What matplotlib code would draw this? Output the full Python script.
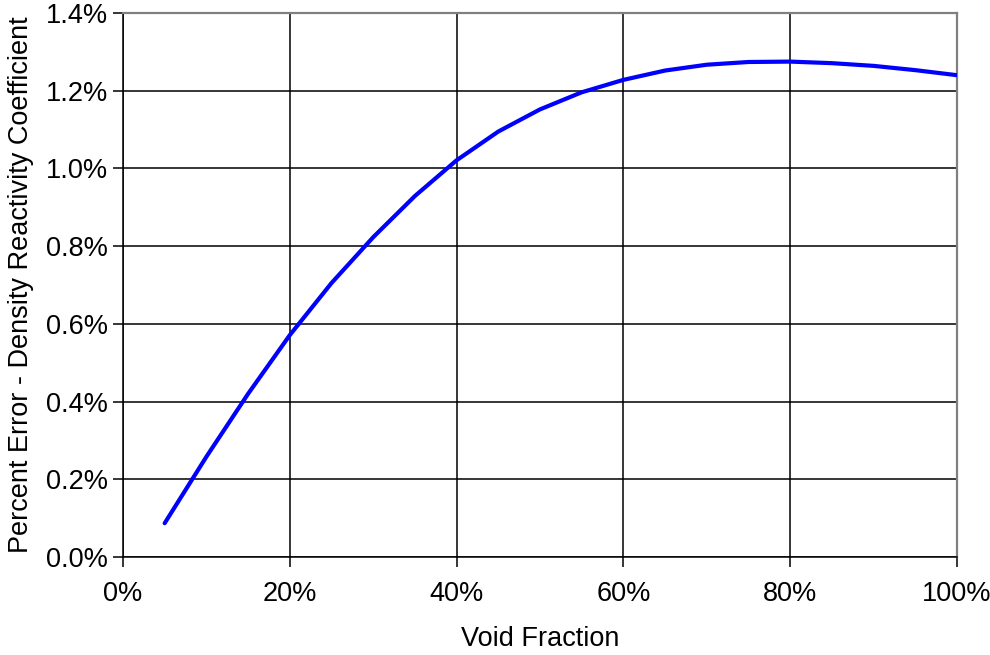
import matplotlib.pyplot as plt
from matplotlib.ticker import FuncFormatter

plt.rcParams['font.family'] = ['Liberation Sans', 'DejaVu Sans']

# void fraction (%) and percent error in density reactivity coefficient (%)
void_fraction = [5, 10, 15, 20, 25, 30, 35, 40, 45, 50, 55, 60, 65, 70, 75, 80, 85, 90, 95, 100]
pct_error = [0.087, 0.258, 0.420, 0.571, 0.705, 0.823, 0.929, 1.021, 1.095, 1.152, 1.196, 1.228,
             1.252, 1.267, 1.274, 1.275, 1.271, 1.264, 1.253, 1.240]

x_ticks = [0, 20, 40, 60, 80, 100]
y_ticks = [0.0, 0.2, 0.4, 0.6, 0.8, 1.0, 1.2, 1.4]

fig = plt.figure(figsize=(9.9, 6.55), dpi=100)
ax = fig.add_axes([0.1242, 0.1496, 0.8425, 0.8305])

ax.plot(void_fraction, pct_error, color='#0000ff', lw=3.0, solid_capstyle='round',
        solid_joinstyle='round', zorder=3)

ax.set_xlim(0, 100)
ax.set_ylim(0, 1.4)
ax.set_xticks(x_ticks)
ax.set_yticks(y_ticks)
ax.xaxis.set_major_formatter(FuncFormatter(lambda v, p: '%d%%' % v))
ax.yaxis.set_major_formatter(FuncFormatter(lambda v, p: '%.1f%%' % v))

ax.grid(True, color='black', lw=1.1)
ax.set_axisbelow(True)
for s in ('top', 'right'):
    ax.spines[s].set_color('#808080')
    ax.spines[s].set_linewidth(1.6)
for s in ('left', 'bottom'):
    ax.spines[s].set_color('black')
    ax.spines[s].set_linewidth(1.1)

ax.tick_params(axis='both', direction='out', length=7, width=1.1, labelsize=19.5, colors='black')
ax.tick_params(axis='x', pad=10)
ax.tick_params(axis='y', pad=4)

ax.set_xlabel('Void Fraction', fontsize=19.5, labelpad=14)
ax.set_ylabel('Percent Error - Density Reactivity Coefficient', fontsize=19.5, labelpad=8)

fig.savefig('out.png', dpi=100)
